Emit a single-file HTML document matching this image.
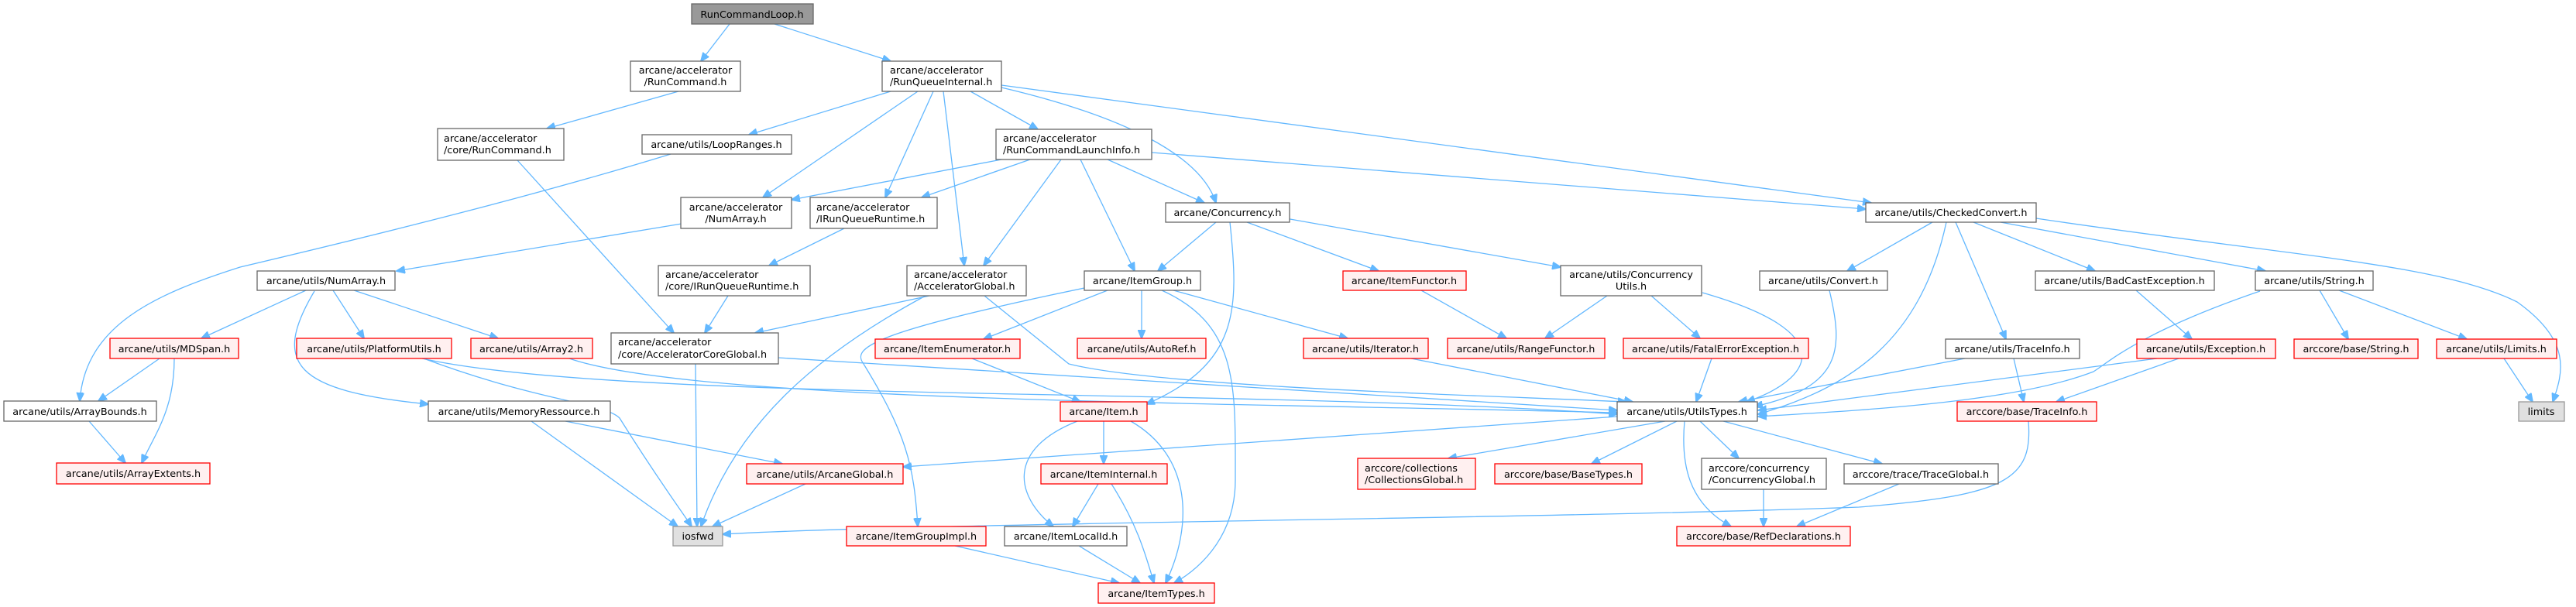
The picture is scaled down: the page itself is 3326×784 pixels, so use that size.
<!DOCTYPE html>
<html><head><meta charset="utf-8"><style>
html,body{margin:0;padding:0;background:#fff;}
svg{display:block;}
text{font-family:"DejaVu Sans","Liberation Sans",sans-serif;font-size:12.8px;fill:#000;}
.n{fill:#fff;stroke:#666;stroke-width:1.3;}
.r{fill:#fff0f0;stroke:#f00;stroke-width:1.3;}
.g{fill:#e0e0e0;stroke:#999;stroke-width:1.3;}
.e{fill:none;stroke:#63b8ff;stroke-width:1.3;}
</style></head><body>
<svg width="3326" height="784" viewBox="0 0 3326 784" xmlns="http://www.w3.org/2000/svg">
<defs><marker id="a" markerWidth="12" markerHeight="10" refX="11" refY="5" orient="auto" markerUnits="userSpaceOnUse"><path d="M0,0 L12,5 L0,10z" fill="#63b8ff" stroke="#63b8ff"/></marker></defs>
<g marker-end="url(#a)">
<path class="e" d="M942,31 L905,79"/>
<path class="e" d="M1000,31 L1150,79"/>
<path class="e" d="M876,118 L706,166"/>
<path class="e" d="M668,207 L870,430"/>
<path class="e" d="M1150,118 L967,174"/>
<path class="e" d="M1185,118 L985,255"/>
<path class="e" d="M1205,118 L1143,255"/>
<path class="e" d="M1218,118 L1245,343"/>
<path class="e" d="M1253,118 L1340,167"/>
<path class="e" d="M1293,113 C1450,150 1550,200 1570,262"/>
<path class="e" d="M1293,110 L2416,262"/>
<path class="e" d="M1487,197 L2409,270"/>
<path class="e" d="M866,199 C700,250 500,300 310,345 C200,380 110,420 103,518"/>
<path class="e" d="M1293,206 L1022,258"/>
<path class="e" d="M1330,206 L1190,255"/>
<path class="e" d="M1370,206 L1270,343"/>
<path class="e" d="M1395,206 L1465,350"/>
<path class="e" d="M1430,206 L1555,262"/>
<path class="e" d="M880,289 L512,350"/>
<path class="e" d="M1090,295 L993,343"/>
<path class="e" d="M940,382 L910,430"/>
<path class="e" d="M395,375 L260,437"/>
<path class="e" d="M430,375 L470,437"/>
<path class="e" d="M457,375 L643,437"/>
<path class="e" d="M406,376 C350,470 380,505 553,522"/>
<path class="e" d="M206,463 L127,518"/>
<path class="e" d="M225,463 C225,530 200,560 183,598"/>
<path class="e" d="M115,544 L162,598"/>
<path class="e" d="M545,463 C800,520 1600,500 2088,535"/>
<path class="e" d="M547,463 C700,520 780,520 800,540 C850,620 880,660 893,680"/>
<path class="e" d="M735,463 C900,520 1600,520 2088,533"/>
<path class="e" d="M1005,462 L2088,530"/>
<path class="e" d="M898,470 L900,680"/>
<path class="e" d="M1200,382 L975,430"/>
<path class="e" d="M1195,382 C1050,460 950,550 905,680"/>
<path class="e" d="M1271,382 L1380,470 C1500,500 1900,510 2100,519"/>
<path class="e" d="M686,544 L875,680"/>
<path class="e" d="M730,544 L1010,599"/>
<path class="e" d="M1040,625 L920,680"/>
<path class="e" d="M1430,375 L1270,438"/>
<path class="e" d="M1474,375 L1474,437"/>
<path class="e" d="M1515,375 L1740,437"/>
<path class="e" d="M1400,372 C1120,430 1100,450 1115,470 C1170,560 1180,600 1185,680"/>
<path class="e" d="M1500,375 C1600,420 1595,500 1595,620 C1595,700 1540,740 1516,753"/>
<path class="e" d="M1570,287 L1495,350"/>
<path class="e" d="M1610,287 L1780,350"/>
<path class="e" d="M1660,282 L2015,345"/>
<path class="e" d="M1588,287 C1600,400 1600,470 1480,522"/>
<path class="e" d="M1835,375 L1945,437"/>
<path class="e" d="M2075,382 L1995,437"/>
<path class="e" d="M2132,382 L2195,437"/>
<path class="e" d="M2198,378 C2380,430 2340,490 2255,519"/>
<path class="e" d="M1822,463 L2108,519"/>
<path class="e" d="M2210,463 L2190,519"/>
<path class="e" d="M1255,463 L1395,519"/>
<path class="e" d="M1425,544 L1425,599"/>
<path class="e" d="M1391,544 C1300,580 1310,640 1360,680"/>
<path class="e" d="M1460,544 C1540,590 1540,680 1505,753"/>
<path class="e" d="M1418,625 L1385,680"/>
<path class="e" d="M1435,625 C1470,680 1480,720 1490,753"/>
<path class="e" d="M1393,705 L1472,753"/>
<path class="e" d="M1233,705 L1445,753"/>
<path class="e" d="M2495,287 L2385,350"/>
<path class="e" d="M2513,287 C2480,440 2390,500 2270,535"/>
<path class="e" d="M2525,287 L2590,438"/>
<path class="e" d="M2548,287 L2705,350"/>
<path class="e" d="M2583,287 L2925,350"/>
<path class="e" d="M2629,282 C2950,330 3150,340 3250,390 C3320,440 3310,480 3296,519"/>
<path class="e" d="M2362,375 C2380,450 2380,500 2265,525"/>
<path class="e" d="M2758,375 L2830,438"/>
<path class="e" d="M2918,376 C2760,430 2720,470 2703,480 C2600,520 2400,530 2270,538"/>
<path class="e" d="M2995,375 L3032,438"/>
<path class="e" d="M3020,375 L3185,438"/>
<path class="e" d="M2537,463 L2245,519"/>
<path class="e" d="M2600,463 L2613,519"/>
<path class="e" d="M2785,463 L2270,530"/>
<path class="e" d="M2813,463 L2655,519"/>
<path class="e" d="M3233,463 L3270,519"/>
<path class="e" d="M2150,544 L1870,592"/>
<path class="e" d="M2165,544 L2055,599"/>
<path class="e" d="M2195,544 L2245,592"/>
<path class="e" d="M2225,544 L2430,599"/>
<path class="e" d="M2175,544 C2170,600 2180,650 2235,680"/>
<path class="e" d="M2088,538 L1166,603"/>
<path class="e" d="M2277,632 L2277,680"/>
<path class="e" d="M2452,625 L2320,680"/>
<path class="e" d="M2619,544 C2625,620 2590,640 2400,655 C2000,670 1200,675 933,690"/>
</g>
<!-- nodes -->
<rect x="893" y="5" width="157" height="26" fill="#999" stroke="#666" stroke-width="1.3"/><text x="971" y="23" text-anchor="middle">RunCommandLoop.h</text>
<rect class="n" x="814" y="79" width="142" height="39"/><text x="885" y="95" text-anchor="middle">arcane/accelerator</text><text x="885" y="110" text-anchor="middle">/RunCommand.h</text>
<rect class="n" x="1139" y="79" width="154" height="39"/><text x="1149" y="95">arcane/accelerator</text><text x="1149" y="110">/RunQueueInternal.h</text>
<rect class="n" x="565" y="166" width="163" height="41"/><text x="573" y="183">arcane/accelerator</text><text x="573" y="198">/core/RunCommand.h</text>
<rect class="n" x="829" y="174" width="193" height="25"/><text x="925" y="191" text-anchor="middle">arcane/utils/LoopRanges.h</text>
<rect class="n" x="1286" y="167" width="201" height="39"/><text x="1295" y="183">arcane/accelerator</text><text x="1295" y="198">/RunCommandLaunchInfo.h</text>
<rect class="n" x="2409" y="262" width="220" height="25"/><text x="2519" y="279" text-anchor="middle">arcane/utils/CheckedConvert.h</text>
<rect class="n" x="879" y="255" width="143" height="40"/><text x="950" y="272" text-anchor="middle">arcane/accelerator</text><text x="950" y="287" text-anchor="middle">/NumArray.h</text>
<rect class="n" x="1046" y="255" width="164" height="40"/><text x="1054" y="272">arcane/accelerator</text><text x="1054" y="287">/IRunQueueRuntime.h</text>
<rect class="n" x="1505" y="262" width="160" height="25"/><text x="1585" y="279" text-anchor="middle">arcane/Concurrency.h</text>
<rect class="n" x="332" y="350" width="178" height="25"/><text x="421" y="367" text-anchor="middle">arcane/utils/NumArray.h</text>
<rect class="n" x="850" y="343" width="196" height="39"/><text x="859" y="359">arcane/accelerator</text><text x="859" y="374">/core/IRunQueueRuntime.h</text>
<rect class="n" x="1171" y="343" width="154" height="39"/><text x="1180" y="359">arcane/accelerator</text><text x="1180" y="374">/AcceleratorGlobal.h</text>
<rect class="n" x="1400" y="350" width="150" height="25"/><text x="1475" y="367" text-anchor="middle">arcane/ItemGroup.h</text>
<rect class="r" x="1734" y="350" width="159" height="25"/><text x="1813" y="367" text-anchor="middle">arcane/ItemFunctor.h</text>
<rect class="n" x="2015" y="343" width="182" height="39"/><text x="2106" y="359" text-anchor="middle">arcane/utils/Concurrency</text><text x="2106" y="374" text-anchor="middle">Utils.h</text>
<rect class="n" x="2272" y="350" width="165" height="25"/><text x="2354" y="367" text-anchor="middle">arcane/utils/Convert.h</text>
<rect class="n" x="2628" y="350" width="231" height="25"/><text x="2743" y="367" text-anchor="middle">arcane/utils/BadCastException.h</text>
<rect class="n" x="2912" y="350" width="152" height="25"/><text x="2988" y="367" text-anchor="middle">arcane/utils/String.h</text>
<rect class="r" x="142" y="437" width="166" height="26"/><text x="225" y="455" text-anchor="middle">arcane/utils/MDSpan.h</text>
<rect class="r" x="383" y="437" width="200" height="26"/><text x="483" y="455" text-anchor="middle">arcane/utils/PlatformUtils.h</text>
<rect class="r" x="608" y="437" width="157" height="26"/><text x="686" y="455" text-anchor="middle">arcane/utils/Array2.h</text>
<rect class="n" x="789" y="430" width="216" height="40"/><text x="798" y="446">arcane/accelerator</text><text x="798" y="462">/core/AcceleratorCoreGlobal.h</text>
<rect class="r" x="1130" y="438" width="187" height="25"/><text x="1223" y="455" text-anchor="middle">arcane/ItemEnumerator.h</text>
<rect class="r" x="1391" y="437" width="166" height="26"/><text x="1474" y="455" text-anchor="middle">arcane/utils/AutoRef.h</text>
<rect class="r" x="1683" y="437" width="161" height="26"/><text x="1763" y="455" text-anchor="middle">arcane/utils/Iterator.h</text>
<rect class="r" x="1869" y="437" width="203" height="26"/><text x="1970" y="455" text-anchor="middle">arcane/utils/RangeFunctor.h</text>
<rect class="r" x="2096" y="437" width="239" height="26"/><text x="2215" y="455" text-anchor="middle">arcane/utils/FatalErrorException.h</text>
<rect class="n" x="2512" y="438" width="173" height="25"/><text x="2598" y="455" text-anchor="middle">arcane/utils/TraceInfo.h</text>
<rect class="r" x="2759" y="438" width="179" height="25"/><text x="2848" y="455" text-anchor="middle">arcane/utils/Exception.h</text>
<rect class="r" x="2962" y="438" width="160" height="25"/><text x="3042" y="455" text-anchor="middle">arccore/base/String.h</text>
<rect class="r" x="3146" y="438" width="155" height="25"/><text x="3223" y="455" text-anchor="middle">arcane/utils/Limits.h</text>
<rect class="n" x="5" y="518" width="197" height="26"/><text x="103" y="536" text-anchor="middle">arcane/utils/ArrayBounds.h</text>
<rect class="n" x="553" y="518" width="235" height="26"/><text x="670" y="536" text-anchor="middle">arcane/utils/MemoryRessource.h</text>
<rect class="r" x="1369" y="519" width="112" height="25"/><text x="1425" y="536" text-anchor="middle">arcane/Item.h</text>
<rect class="n" x="2088" y="519" width="181" height="25"/><text x="2178" y="536" text-anchor="middle">arcane/utils/UtilsTypes.h</text>
<rect class="r" x="2527" y="519" width="180" height="25"/><text x="2617" y="536" text-anchor="middle">arccore/base/TraceInfo.h</text>
<rect class="g" x="3252" y="519" width="59" height="25"/><text x="3281" y="536" text-anchor="middle">limits</text>
<rect class="r" x="73" y="598" width="198" height="27"/><text x="172" y="616" text-anchor="middle">arcane/utils/ArrayExtents.h</text>
<rect class="r" x="964" y="599" width="202" height="26"/><text x="1065" y="617" text-anchor="middle">arcane/utils/ArcaneGlobal.h</text>
<rect class="r" x="1344" y="599" width="163" height="26"/><text x="1425" y="617" text-anchor="middle">arcane/ItemInternal.h</text>
<rect class="r" x="1753" y="592" width="152" height="40"/><text x="1762" y="609">arccore/collections</text><text x="1762" y="624">/CollectionsGlobal.h</text>
<rect class="r" x="1930" y="599" width="190" height="26"/><text x="2025" y="617" text-anchor="middle">arccore/base/BaseTypes.h</text>
<rect class="n" x="2197" y="592" width="161" height="40"/><text x="2206" y="609">arccore/concurrency</text><text x="2206" y="624">/ConcurrencyGlobal.h</text>
<rect class="n" x="2381" y="599" width="199" height="26"/><text x="2480" y="617" text-anchor="middle">arccore/trace/TraceGlobal.h</text>
<rect class="g" x="869" y="680" width="64" height="25"/><text x="901" y="697" text-anchor="middle">iosfwd</text>
<rect class="r" x="1093" y="680" width="180" height="25"/><text x="1183" y="697" text-anchor="middle">arcane/ItemGroupImpl.h</text>
<rect class="n" x="1297" y="680" width="158" height="25"/><text x="1376" y="697" text-anchor="middle">arcane/ItemLocalId.h</text>
<rect class="r" x="2165" y="680" width="224" height="25"/><text x="2277" y="697" text-anchor="middle">arccore/base/RefDeclarations.h</text>
<rect class="r" x="1418" y="753" width="150" height="26"/><text x="1493" y="771" text-anchor="middle">arcane/ItemTypes.h</text>
</svg>
</body></html>
